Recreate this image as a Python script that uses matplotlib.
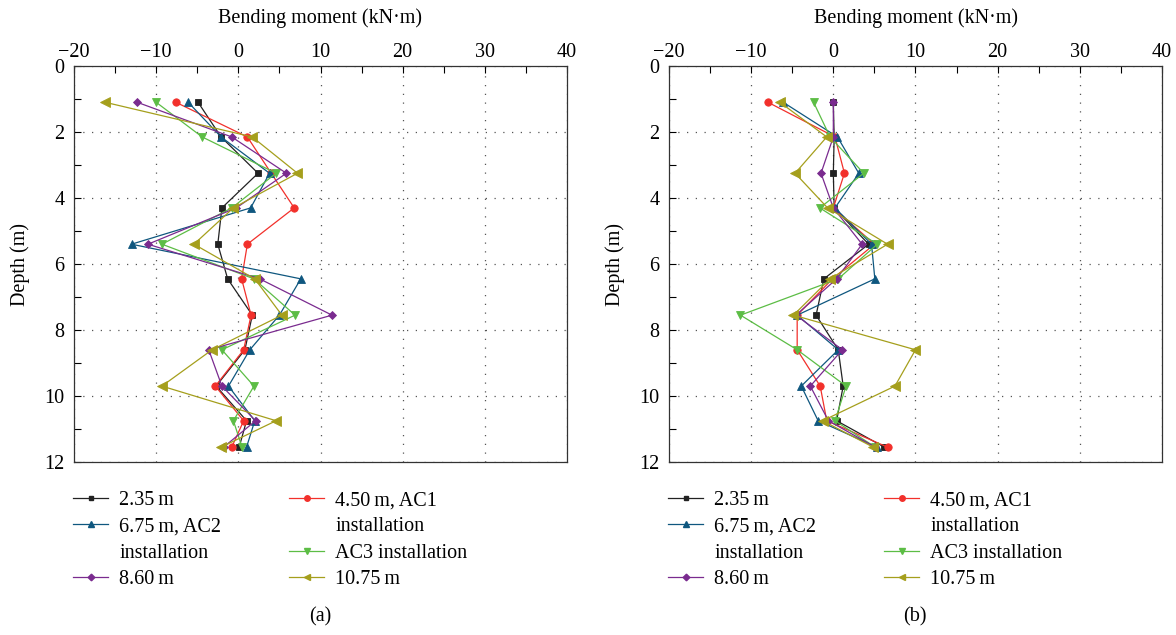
import matplotlib
matplotlib.use("Agg")
import matplotlib.pyplot as plt
from matplotlib.lines import Line2D
from matplotlib.ticker import MultipleLocator

plt.rcParams['font.family'] = ['Liberation Serif', 'DejaVu Serif']
plt.rcParams['axes.unicode_minus'] = True

depth = [1.1, 2.15, 3.25, 4.3, 5.4, 6.45, 7.55, 8.6, 9.7, 10.75, 11.55]

labels = ["2.35\u2009m", "4.50\u2009m, AC1 installation", "6.75\u2009m, AC2 installation",
          "AC3 installation", "8.60\u2009m", "10.75\u2009m"]

# panel (a)
a_235 = [-4.9, -2.1, 2.4, -2.0, -2.5, -1.3, 1.7, 0.8, -2.7, 1.0, 0.1]
a_450 = [-7.6, 1.1, 4.0, 6.8, 1.1, 0.4, 1.55, 0.65, -2.8, 0.65, -0.8]
a_675 = [-6.1, -2.1, 3.8, 1.5, -13.0, 7.6, 5.0, 1.4, -1.2, 2.0, 1.0]
a_ac3 = [-10.0, -4.4, 4.6, -0.8, -9.3, 1.9, 6.9, -2.0, 1.9, -0.6, 0.45]
a_860 = [-12.3, -0.8, 5.85, -0.25, -11.0, 2.6, 11.4, -3.6, -2.0, 2.1, -1.8]
a_1075 = [-16.2, 1.7, 7.2, -0.6, -5.4, 2.0, 5.3, -3.2, -9.3, 4.6, -2.1]

# panel (b)
b_235 = [0.0, 0.1, 0.0, 0.1, 4.3, -1.15, -2.1, 0.6, 1.2, 0.4, 6.2]
b_450 = [-7.95, 0.2, 1.35, 0.0, 5.0, -0.1, -4.4, -4.4, -1.6, -0.8, 6.6]
b_675 = [-6.1, 0.5, 3.1, 0.2, 4.65, 5.05, -4.4, 0.6, -3.9, -1.85, 5.3]
b_ac3 = [-2.4, -0.4, 3.7, -1.65, 5.35, 0.6, -11.3, -4.4, 1.55, 0.2, 5.1]
b_860 = [0.0, 0.0, -1.5, 0.0, 3.5, 0.4, -4.55, 1.1, -2.8, -0.6, 5.1]
b_1075 = [-6.5, -0.8, -4.65, -0.7, 6.6, -0.4, -4.85, 10.0, 7.5, -1.3, 4.85]

colors = ["#222222", "#f2302b", "#0f577f", "#5cbd45", "#7a2b8f", "#a59f1c"]
markers = ["s", "o", "^", "v", "D", "<"]
msizes = [4.8, 5.3, 6, 6, 4.5, 6.5]

W, H = 1176, 635
FS = 14.5
fig = plt.figure(figsize=(W / 100, H / 100), dpi=100)


def make_ax(left_px, series, panel_label):
    ax = fig.add_axes([left_px / W, (H - 462) / H, 493 / W, (462 - 66) / H])
    for vals, c, m, ms in zip(series, colors, markers, msizes):
        ax.plot(vals, depth, color=c, marker=m, markersize=ms, linewidth=0.9,
                markeredgewidth=0.6)
    ax.set_xlim(-20, 40)
    ax.set_ylim(12, 0)
    ax.xaxis.tick_top()
    ax.xaxis.set_label_position('top')
    ax.xaxis.set_major_locator(MultipleLocator(10))
    ax.xaxis.set_minor_locator(MultipleLocator(5))
    ax.yaxis.set_major_locator(MultipleLocator(2))
    ax.yaxis.set_minor_locator(MultipleLocator(1))
    ax.tick_params(which='both', direction='in', labelsize=FS, top=True,
                   bottom=False, left=True, right=False, width=0.8)
    ax.tick_params(which='major', length=5)
    ax.tick_params(which='minor', length=5)
    ax.tick_params(axis='x', pad=3)
    ax.tick_params(axis='y', pad=7)
    ax.grid(True, which='major', color='#555555', linestyle=(0, (1, 6)),
            linewidth=0.9)
    for s in ax.spines.values():
        s.set_linewidth(0.9)
        s.set_color('#333333')
    ax.set_xlabel("Bending moment (kN\u00b7m)", fontsize=FS, labelpad=14)
    ax.set_ylabel("Depth (m)", fontsize=FS, labelpad=10)
    cx = (left_px + 246) / W
    fig.text(cx, 1 - 617 / H, panel_label, ha='center', va='center', fontsize=FS)

    hs = [Line2D([], [], color=c, marker=m, markersize=ms * 0.75, linewidth=0.9)
          for c, m, ms in zip(colors, markers, msizes)]
    blank = Line2D([], [], linestyle='none', marker=None)
    col1_h = [hs[0], hs[2], blank, hs[4]]
    col1_l = [labels[0], "6.75\u2009m, AC2", "installation", labels[4]]
    col2_h = [hs[1], blank, hs[3], hs[5]]
    col2_l = ["4.50\u2009m, AC1", "installation", labels[3], labels[5]]
    for xpx, hh, ll in [(left_px - 1, col1_h, col1_l), (left_px + 215, col2_h, col2_l)]:
        fig.legend(hh, ll, loc='upper left',
                   bbox_to_anchor=(xpx / W, 1 - 491 / H),
                   frameon=False, fontsize=FS, handlelength=1.75,
                   handletextpad=0.55, labelspacing=0.36, borderpad=0,
                   borderaxespad=0)
    return ax


make_ax(74, [a_235, a_450, a_675, a_ac3, a_860, a_1075], "(a)")
make_ax(669, [b_235, b_450, b_675, b_ac3, b_860, b_1075], "(b)")

fig.savefig("out.png", dpi=100)
